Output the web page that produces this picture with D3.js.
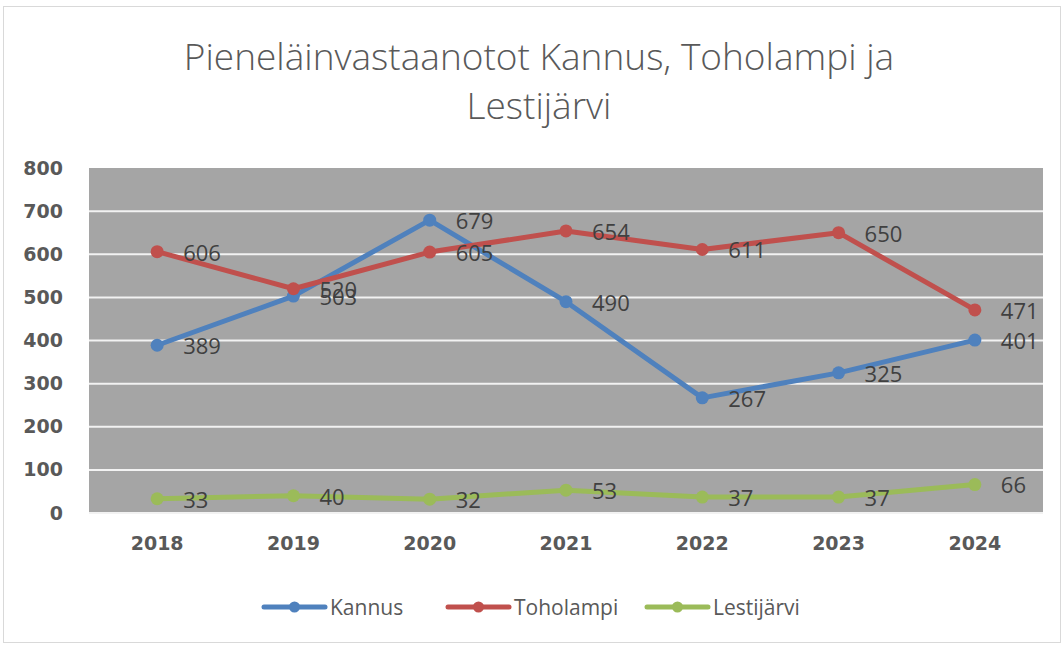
<!DOCTYPE html>
<html>
<head>
<meta charset="utf-8">
<script src="https://cdn.jsdelivr.net/npm/d3@7"></script>
<style>
  body { margin: 0; background: #fff; }
  svg { display: block; font-family: "Open Sans", "Noto Sans", sans-serif; }
</style>
</head>
<body>
<svg id="chart"></svg>
<script>
var years = ["2018", "2019", "2020", "2021", "2022", "2023", "2024"];
var kannus = [389, 503, 679, 490, 267, 325, 401];
var toholampi = [606, 520, 605, 654, 611, 650, 471];
var lestijarvi = [33, 40, 32, 53, 37, 37, 66];
var seriesNames = ["Kannus", "Toholampi", "Lestijärvi"];
var seriesColors = ["#4f81bd", "#c0504d", "#9bbb59"];
var yTicks = [0, 100, 200, 300, 400, 500, 600, 700, 800];

var width = 1063, height = 646;
var margin = {top: 168, right: 20, bottom: 133, left: 89};
var plotW = width - margin.left - margin.right,
    plotH = height - margin.top - margin.bottom;

var svg = d3.select("#chart")
    .attr("width", width)
    .attr("height", height);

// chart frame
svg.append("rect")
    .attr("x", 3.5).attr("y", 6.5)
    .attr("width", width - 6).attr("height", height - 10)
    .attr("fill", "#fff")
    .attr("stroke", "#d9d9d9");

// title
var title = svg.append("text")
    .attr("text-anchor", "middle")
    .attr("fill", "#595959")
    .style("font-size", "37px")
    .style("font-weight", 300);
title.append("tspan").attr("x", 539).attr("y", 70).text("Pieneläinvastaanotot Kannus, Toholampi ja");
title.append("tspan").attr("x", 539).attr("y", 119).text("Lestijärvi");

var x = d3.scaleBand()
    .domain(years)
    .range([0, plotW]);

var y = d3.scaleLinear()
    .domain([0, 800])
    .range([plotH, 0]);

var g = svg.append("g")
    .attr("transform", "translate(" + margin.left + "," + margin.top + ")");

g.append("rect")
    .attr("width", plotW)
    .attr("height", plotH)
    .attr("fill", "#a5a5a5");

// gridlines
g.selectAll(".grid")
    .data(yTicks)
  .enter().append("line")
    .attr("class", "grid")
    .attr("x1", 0).attr("x2", plotW)
    .attr("y1", function(d) { return y(d); })
    .attr("y2", function(d) { return y(d); })
    .attr("stroke", "#f2f2f2")
    .attr("stroke-width", function(d) { return d === 800 ? 0 : 2; });

// y axis
var yAxis = g.append("g")
    .call(d3.axisLeft(y).tickValues(yTicks).tickSize(0).tickPadding(26));
yAxis.select(".domain").remove();
yAxis.selectAll("text")
    .attr("fill", "#595959")
    .style("font-size", "19px")
    .style("font-weight", "bold")
    .style("font-family", "\"DejaVu Sans\", sans-serif");

// x axis
var xAxis = g.append("g")
    .attr("transform", "translate(0," + plotH + ")")
    .call(d3.axisBottom(x).tickSize(0).tickPadding(24));
xAxis.select(".domain").remove();
xAxis.selectAll("text")
    .attr("fill", "#595959")
    .style("font-size", "19px")
    .style("font-weight", "bold")
    .style("font-family", "\"DejaVu Sans\", sans-serif");

var allSeries = [kannus, toholampi, lestijarvi];

var line = d3.line()
    .x(function(d, i) { return x(years[i]) + x.bandwidth() / 2; })
    .y(function(d) { return y(d); });

allSeries.forEach(function(vals, s) {
    g.append("path")
        .datum(vals)
        .attr("d", line)
        .attr("fill", "none")
        .attr("stroke", seriesColors[s])
        .attr("stroke-width", 5)
        .attr("stroke-linejoin", "round")
        .attr("stroke-linecap", "round");

    g.selectAll(".pt" + s)
        .data(vals)
      .enter().append("circle")
        .attr("class", "pt" + s)
        .attr("cx", function(d, i) { return x(years[i]) + x.bandwidth() / 2; })
        .attr("cy", function(d) { return y(d); })
        .attr("r", 6.5)
        .attr("fill", seriesColors[s]);
});

// data labels
allSeries.forEach(function(vals, s) {
    g.selectAll(".lbl" + s)
        .data(vals)
      .enter().append("text")
        .attr("class", "lbl" + s)
        .attr("x", function(d, i) { return x(years[i]) + x.bandwidth() / 2 + 26; })
        .attr("y", function(d) { return y(d) + 1; })
        .attr("dy", "0.36em")
        .attr("fill", "#404040")
        .style("font-size", "22px")
        .text(function(d) { return d; });
});

// legend
var legendX = [264, 448, 647];
var legend = svg.append("g").attr("transform", "translate(0,607)");
seriesNames.forEach(function(name, i) {
    var lg = legend.append("g").attr("transform", "translate(" + legendX[i] + ",0)");
    lg.append("line")
        .attr("x1", 0).attr("x2", 61)
        .attr("stroke", seriesColors[i])
        .attr("stroke-width", 5)
        .attr("stroke-linecap", "round");
    lg.append("circle").attr("cx", 30.5).attr("r", 5.5).attr("fill", seriesColors[i]);
    lg.append("text")
        .attr("x", 66)
        .attr("dy", "0.36em")
        .attr("fill", "#595959")
        .style("font-size", "21px")
        .text(name);
});
</script>
</body>
</html>
